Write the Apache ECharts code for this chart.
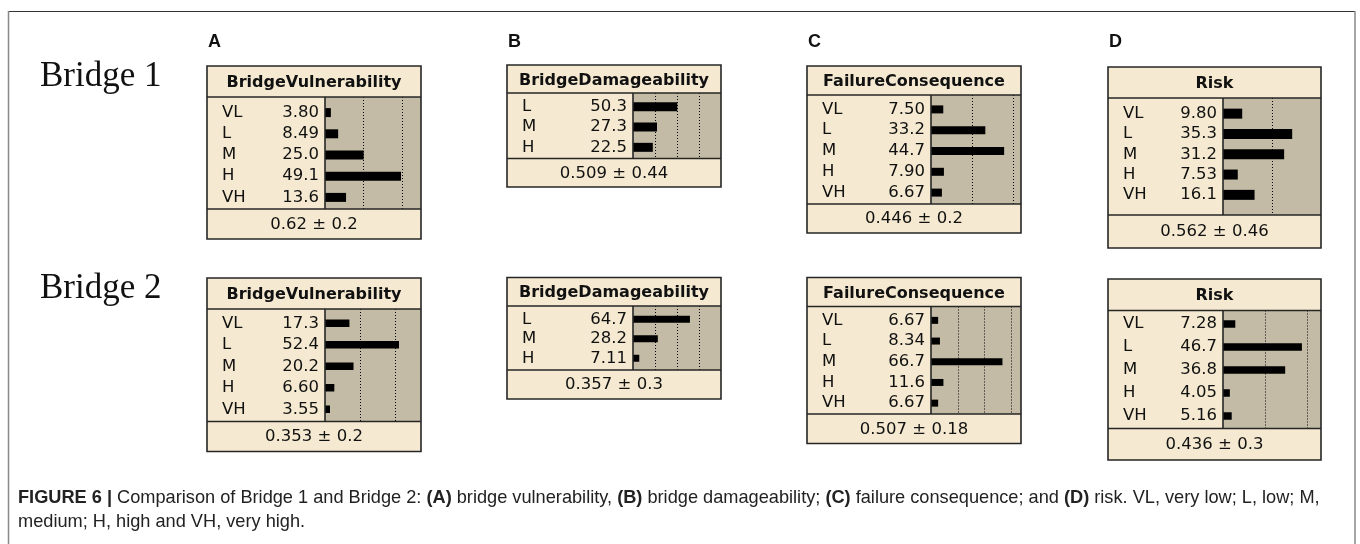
<!DOCTYPE html>
<html>
<head>
<meta charset="utf-8">
<script src="https://cdn.jsdelivr.net/npm/echarts@6/dist/echarts.min.js"></script>
<style>
  html, body { margin: 0; padding: 0; background: #fff; }
  #chart { width: 1360px; height: 544px; }
</style>
</head>
<body>
<div id="chart"></div>
<script>
// node states
const fiveStates = ['VL', 'L', 'M', 'H', 'VH'];
const threeStates = ['L', 'M', 'H'];
const nodeTitles = ['BridgeVulnerability', 'BridgeDamageability', 'FailureConsequence', 'Risk'];
const panelLetters = ['A', 'B', 'C', 'D'];
const bridgeNames = ['Bridge 1', 'Bridge 2'];

// beliefs (%)
const bridge1Vulnerability = [3.80, 8.49, 25.0, 49.1, 13.6];
const bridge1Damageability = [50.3, 27.3, 22.5];
const bridge1Consequence = [7.50, 33.2, 44.7, 7.90, 6.67];
const bridge1Risk = [9.80, 35.3, 31.2, 7.53, 16.1];
const bridge2Vulnerability = [17.3, 52.4, 20.2, 6.60, 3.55];
const bridge2Damageability = [64.7, 28.2, 7.11];
const bridge2Consequence = [6.67, 8.34, 66.7, 11.6, 6.67];
const bridge2Risk = [7.28, 46.7, 36.8, 4.05, 5.16];

// expected value ± sd shown under each node
const bridge1Mean = [0.62, 0.509, 0.446, 0.562];
const bridge1Sd = [0.2, 0.44, 0.2, 0.46];
const bridge2Mean = [0.353, 0.357, 0.507, 0.436];
const bridge2Sd = [0.2, 0.3, 0.18, 0.3];

const nodes = [
  { title: nodeTitles[0], states: fiveStates, values: bridge1Vulnerability, mean: bridge1Mean[0], sd: bridge1Sd[0] },
  { title: nodeTitles[1], states: threeStates, values: bridge1Damageability, mean: bridge1Mean[1], sd: bridge1Sd[1] },
  { title: nodeTitles[2], states: fiveStates, values: bridge1Consequence, mean: bridge1Mean[2], sd: bridge1Sd[2] },
  { title: nodeTitles[3], states: fiveStates, values: bridge1Risk, mean: bridge1Mean[3], sd: bridge1Sd[3] },
  { title: nodeTitles[0], states: fiveStates, values: bridge2Vulnerability, mean: bridge2Mean[0], sd: bridge2Sd[0] },
  { title: nodeTitles[1], states: threeStates, values: bridge2Damageability, mean: bridge2Mean[1], sd: bridge2Sd[1] },
  { title: nodeTitles[2], states: fiveStates, values: bridge2Consequence, mean: bridge2Mean[2], sd: bridge2Sd[2] },
  { title: nodeTitles[3], states: fiveStates, values: bridge2Risk, mean: bridge2Mean[3], sd: bridge2Sd[3] }
];

// box geometry (px) and bar scale of every node box
const boxLayout = [
  { x: 207, w: 214, top: 66, titleBottom: 97, bandTop: 102, bandBottom: 208, statesBottom: 209, bottom: 239, div: 325, max: 62, barW: 9 },
  { x: 507, w: 214, top: 65, titleBottom: 93, bandTop: 96.5, bandBottom: 157.5, statesBottom: 158.5, bottom: 187, div: 633, max: 100, barW: 9 },
  { x: 807, w: 214, top: 66, titleBottom: 95, bandTop: 99, bandBottom: 203, statesBottom: 204, bottom: 233, div: 931, max: 55, barW: 8 },
  { x: 1108, w: 213, top: 67, titleBottom: 98, bandTop: 103.5, bandBottom: 205, statesBottom: 215, bottom: 248, div: 1223, max: 50, barW: 10 },
  { x: 207, w: 214, top: 278, titleBottom: 309, bandTop: 312.5, bandBottom: 420, statesBottom: 421.5, bottom: 451.5, div: 325, max: 68, barW: 7.5 },
  { x: 507, w: 214, top: 277.5, titleBottom: 306, bandTop: 309.5, bandBottom: 368, statesBottom: 370, bottom: 399, div: 633, max: 100, barW: 7 },
  { x: 807, w: 214, top: 277.5, titleBottom: 306.5, bandTop: 310, bandBottom: 413.5, statesBottom: 414, bottom: 443.5, div: 931, max: 84, barW: 7 },
  { x: 1108, w: 213, top: 279, titleBottom: 310.5, bandTop: 312.5, bandBottom: 427.5, statesBottom: 428.5, bottom: 460, div: 1223, max: 58, barW: 7.5 }
];

const CREAM = '#F5EAD1';
const TAN = '#C3BBA5';
const EDGE = '#262626';
const FONT = '"DejaVu Sans", "Liberation Sans", sans-serif';

const grids = [];
const xAxes = [];
const yAxes = [];
const series = [];
const elements = [];

// outer frame
elements.push(
  { type: 'line', z: 20, shape: { x1: 8, y1: 11.5, x2: 1355, y2: 11.5 }, style: { stroke: '#333', lineWidth: 1.2 } },
  { type: 'line', z: 20, shape: { x1: 8.5, y1: 11, x2: 8.5, y2: 544 }, style: { stroke: '#888', lineWidth: 1.5 } },
  { type: 'line', z: 20, shape: { x1: 1355, y1: 11, x2: 1355, y2: 544 }, style: { stroke: '#888', lineWidth: 1.5 } }
);

// row names and panel letters
bridgeNames.forEach((name, r) => {
  elements.push({ type: 'text', z: 20, style: { text: name, x: 40, y: r === 0 ? 77 : 289, font: '35px "Liberation Serif", serif', fill: '#111', verticalAlign: 'middle' } });
});
panelLetters.forEach((letter, c) => {
  elements.push({ type: 'text', z: 20, style: { text: letter, x: boxLayout[c].x + 1, y: 42, font: 'bold 18px "Liberation Sans", sans-serif', fill: '#111', verticalAlign: 'middle' } });
});

nodes.forEach((node, i) => {
  const b = boxLayout[i];
  const right = b.x + b.w;
  const barArea = right - b.div;

  // backgrounds
  elements.push(
    { type: 'rect', z: -5, shape: { x: b.x, y: b.top, width: b.w, height: b.bottom - b.top }, style: { fill: CREAM } },
    { type: 'rect', z: -4, shape: { x: b.div, y: b.titleBottom, width: barArea, height: b.statesBottom - b.titleBottom }, style: { fill: TAN } }
  );
  // outlines
  elements.push(
    { type: 'rect', z: 10, shape: { x: b.x, y: b.top, width: b.w, height: b.bottom - b.top }, style: { fill: null, stroke: EDGE, lineWidth: 1.6 } },
    { type: 'line', z: 10, shape: { x1: b.x, y1: b.titleBottom, x2: right, y2: b.titleBottom }, style: { stroke: EDGE, lineWidth: 1.6 } },
    { type: 'line', z: 10, shape: { x1: b.x, y1: b.statesBottom, x2: right, y2: b.statesBottom }, style: { stroke: EDGE, lineWidth: 1.6 } },
    { type: 'line', z: 10, shape: { x1: b.div, y1: b.titleBottom, x2: b.div, y2: b.statesBottom }, style: { stroke: EDGE, lineWidth: 1.6 } }
  );
  // title and footer
  elements.push(
    { type: 'text', z: 11, style: { text: node.title, x: b.x + b.w / 2, y: (b.top + b.titleBottom) / 2 + 1.5, font: 'bold 16px ' + FONT, fill: '#111', align: 'center', verticalAlign: 'middle' } },
    { type: 'text', z: 11, style: { text: node.mean + ' \u00b1 ' + node.sd, x: b.x + b.w / 2, y: (b.statesBottom + b.bottom) / 2 + 0.5, font: '16.5px ' + FONT, fill: '#111', align: 'center', verticalAlign: 'middle' } }
  );

  // grid for the dotted reference lines (full state area)
  grids.push({ left: b.div, top: b.titleBottom, width: barArea, height: b.statesBottom - b.titleBottom, containLabel: false });
  xAxes.push({
    gridIndex: 2 * i, type: 'value', min: 0, max: b.max, interval: 25,
    axisLine: { show: false }, axisTick: { show: false }, axisLabel: { show: false },
    splitLine: { show: true, showMinLine: false, showMaxLine: false, lineStyle: { color: '#000', width: 1, type: [1, 2] } }
  });
  yAxes.push({ gridIndex: 2 * i, type: 'value', min: 0, max: 1, show: false });

  // grid for the bars and state rows
  grids.push({ left: b.div, top: b.bandTop, width: barArea, height: b.bandBottom - b.bandTop, containLabel: false });
  xAxes.push({ gridIndex: 2 * i + 1, type: 'value', min: 0, max: b.max, show: false, splitLine: { show: false } });
  const valueW = 46;
  const stateW = b.div - 6 - valueW - (b.x + 15);
  yAxes.push({
    gridIndex: 2 * i + 1, type: 'category', inverse: true, data: node.states,
    axisLine: { show: false }, axisTick: { show: false }, splitLine: { show: false },
    axisLabel: {
      margin: 6,
      formatter: (value, idx) => '{s|' + value + '}{v|' + node.values[idx].toPrecision(3) + '}',
      rich: {
        s: { width: stateW, align: 'left', fontFamily: FONT, fontSize: 16.5, color: '#111' },
        v: { width: valueW, align: 'right', fontFamily: FONT, fontSize: 16.5, color: '#111' }
      }
    }
  });
  series.push({
    type: 'bar', xAxisIndex: 2 * i + 1, yAxisIndex: 2 * i + 1,
    data: node.values, barWidth: b.barW, silent: true,
    itemStyle: { color: '#000' }
  });
});

// caption
elements.push({
  type: 'text', z: 20,
  style: {
    text: '{b|FIGURE 6 |} Comparison of Bridge 1 and Bridge 2: {b|(A)} bridge vulnerability, {b|(B)} bridge damageability; {b|(C)} failure consequence; and {b|(D)} risk. VL, very low; L, low; M,\nmedium; H, high and VH, very high.',
    x: 18, y: 486, font: '18.2px "Liberation Sans", sans-serif', fill: '#222', lineHeight: 24,
    rich: {
      b: { fontWeight: 'bold', fontSize: 18.2, fontFamily: '"Liberation Sans", sans-serif', fill: '#222', lineHeight: 24 }
    }
  }
});

const chart = echarts.init(document.getElementById('chart'));
chart.setOption({
  animation: false,
  backgroundColor: '#fff',
  grid: grids,
  xAxis: xAxes,
  yAxis: yAxes,
  series: series,
  graphic: { elements: elements }
});
</script>
</body>
</html>
